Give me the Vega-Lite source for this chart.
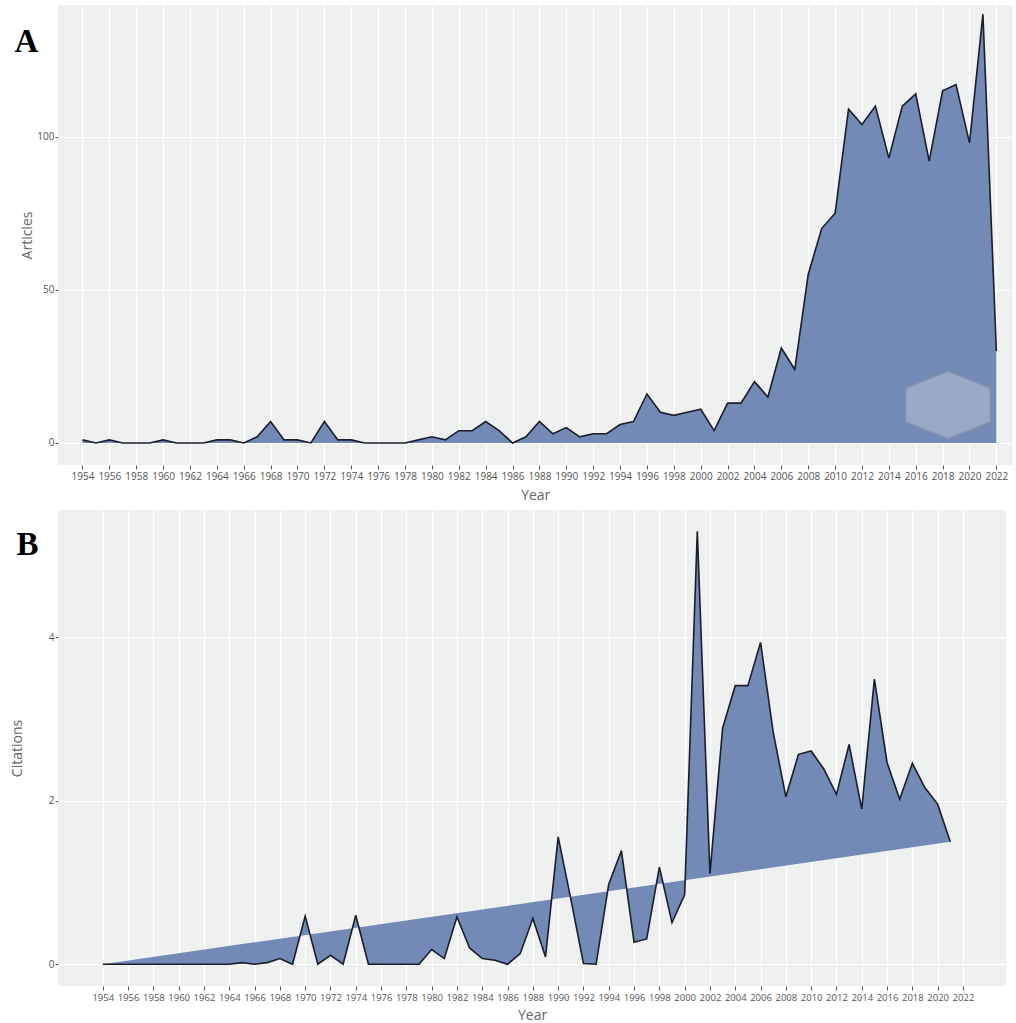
{
  "$schema": "https://vega.github.io/schema/vega-lite/v6.json",
  "background": "white",
  "padding": {"left": 10, "top": 5, "right": 0, "bottom": 0},
  "spacing": 8,
  "columns": 1,
  "config": {
    "view": {"fill": "#eff0f0", "stroke": null},
    "font": "Open Sans",
    "axis": {
      "domain": false,
      "grid": true,
      "gridColor": "#ffffff",
      "gridWidth": 1.2,
      "tickColor": "#555555",
      "tickSize": 4,
      "labelOverlap": false,
      "labelColor": "#555555",
      "labelFont": "Open Sans",
      "titleFont": "Open Sans",
      "titleColor": "#666666",
      "titleFontWeight": "normal",
      "titleFontSize": 14
    },
    "title": {"font": "Liberation Serif", "fontSize": 33, "fontWeight": "bold", "color": "#000000"}
  },
  "datasets": {
    "articles": [
      {"year": 1954, "n": 1}, {"year": 1955, "n": 0}, {"year": 1956, "n": 1}, {"year": 1957, "n": 0},
      {"year": 1958, "n": 0}, {"year": 1959, "n": 0}, {"year": 1960, "n": 1}, {"year": 1961, "n": 0},
      {"year": 1962, "n": 0}, {"year": 1963, "n": 0}, {"year": 1964, "n": 1}, {"year": 1965, "n": 1},
      {"year": 1966, "n": 0}, {"year": 1967, "n": 2}, {"year": 1968, "n": 7}, {"year": 1969, "n": 1},
      {"year": 1970, "n": 1}, {"year": 1971, "n": 0}, {"year": 1972, "n": 7}, {"year": 1973, "n": 1},
      {"year": 1974, "n": 1}, {"year": 1975, "n": 0}, {"year": 1976, "n": 0}, {"year": 1977, "n": 0},
      {"year": 1978, "n": 0}, {"year": 1979, "n": 1}, {"year": 1980, "n": 2}, {"year": 1981, "n": 1},
      {"year": 1982, "n": 4}, {"year": 1983, "n": 4}, {"year": 1984, "n": 7}, {"year": 1985, "n": 4},
      {"year": 1986, "n": 0}, {"year": 1987, "n": 2}, {"year": 1988, "n": 7}, {"year": 1989, "n": 3},
      {"year": 1990, "n": 5}, {"year": 1991, "n": 2}, {"year": 1992, "n": 3}, {"year": 1993, "n": 3},
      {"year": 1994, "n": 6}, {"year": 1995, "n": 7}, {"year": 1996, "n": 16}, {"year": 1997, "n": 10},
      {"year": 1998, "n": 9}, {"year": 1999, "n": 10}, {"year": 2000, "n": 11}, {"year": 2001, "n": 4},
      {"year": 2002, "n": 13}, {"year": 2003, "n": 13}, {"year": 2004, "n": 20}, {"year": 2005, "n": 15},
      {"year": 2006, "n": 31}, {"year": 2007, "n": 24}, {"year": 2008, "n": 55}, {"year": 2009, "n": 70},
      {"year": 2010, "n": 75}, {"year": 2011, "n": 109}, {"year": 2012, "n": 104}, {"year": 2013, "n": 110},
      {"year": 2014, "n": 93}, {"year": 2015, "n": 110}, {"year": 2016, "n": 114}, {"year": 2017, "n": 92},
      {"year": 2018, "n": 115}, {"year": 2019, "n": 117}, {"year": 2020, "n": 98}, {"year": 2021, "n": 140},
      {"year": 2022, "n": 30}
    ],
    "citations": [
      {"year": 1954, "c": 0}, {"year": 1955, "c": 0}, {"year": 1956, "c": 0}, {"year": 1957, "c": 0},
      {"year": 1958, "c": 0}, {"year": 1959, "c": 0}, {"year": 1960, "c": 0}, {"year": 1961, "c": 0},
      {"year": 1962, "c": 0}, {"year": 1963, "c": 0}, {"year": 1964, "c": 0}, {"year": 1965, "c": 0.02},
      {"year": 1966, "c": 0}, {"year": 1967, "c": 0.02}, {"year": 1968, "c": 0.07}, {"year": 1969, "c": 0},
      {"year": 1970, "c": 0.59}, {"year": 1971, "c": 0}, {"year": 1972, "c": 0.11}, {"year": 1973, "c": 0},
      {"year": 1974, "c": 0.6}, {"year": 1975, "c": 0}, {"year": 1976, "c": 0}, {"year": 1977, "c": 0},
      {"year": 1978, "c": 0}, {"year": 1979, "c": 0}, {"year": 1980, "c": 0.18}, {"year": 1981, "c": 0.07},
      {"year": 1982, "c": 0.58}, {"year": 1983, "c": 0.2}, {"year": 1984, "c": 0.07}, {"year": 1985, "c": 0.05},
      {"year": 1986, "c": 0}, {"year": 1987, "c": 0.13}, {"year": 1988, "c": 0.56}, {"year": 1989, "c": 0.09},
      {"year": 1990, "c": 1.56}, {"year": 1991, "c": 0.8}, {"year": 1992, "c": 0.01}, {"year": 1993, "c": 0},
      {"year": 1994, "c": 0.98}, {"year": 1995, "c": 1.39}, {"year": 1996, "c": 0.27}, {"year": 1997, "c": 0.31},
      {"year": 1998, "c": 1.19}, {"year": 1999, "c": 0.51}, {"year": 2000, "c": 0.85}, {"year": 2001, "c": 5.3},
      {"year": 2002, "c": 1.11}, {"year": 2003, "c": 2.89}, {"year": 2004, "c": 3.41}, {"year": 2005, "c": 3.41},
      {"year": 2006, "c": 3.94}, {"year": 2007, "c": 2.84}, {"year": 2008, "c": 2.05}, {"year": 2009, "c": 2.57},
      {"year": 2010, "c": 2.61}, {"year": 2011, "c": 2.39}, {"year": 2012, "c": 2.08}, {"year": 2013, "c": 2.69},
      {"year": 2014, "c": 1.9}, {"year": 2015, "c": 3.49}, {"year": 2016, "c": 2.47}, {"year": 2017, "c": 2.02},
      {"year": 2018, "c": 2.46}, {"year": 2019, "c": 2.16}, {"year": 2020, "c": 1.96}, {"year": 2021, "c": 1.5}
    ]
  },
  "concat": [
    {
      "width": 954.5,
      "height": 460,
      "title": {"text": "A", "anchor": "start", "frame": "group", "offset": -54, "dx": -43.5},
      "layer": [
        {
          "data": {"name": "articles"},
          "mark": {"type": "area", "color": "#7389b6", "opacity": 1, "line": {"color": "#1a1d2b", "strokeWidth": 1.6}},
          "encoding": {
            "x": {
              "field": "year", "type": "quantitative",
              "scale": {"domain": [1952.18, 2023.2], "nice": false, "zero": false},
              "axis": {
                "title": "Year", "format": "d", "labelFontSize": 10, "labelPadding": 2, "titlePadding": 7,
                "labelOverlap": false, "labelFlush": false,
                "values": [1954,1956,1958,1960,1962,1964,1966,1968,1970,1972,1974,1976,1978,1980,1982,1984,1986,1988,1990,1992,1994,1996,1998,2000,2002,2004,2006,2008,2010,2012,2014,2016,2018,2020,2022]
              }
            },
            "y": {
              "field": "n", "type": "quantitative",
              "scale": {"domain": [-7.2, 143], "nice": false, "zero": false},
              "axis": {"title": "Articles", "values": [0, 50, 100], "labelFontSize": 10, "tickSize": 3, "labelPadding": 1, "titlePadding": 2}
            }
          }
        },
        {
          "data": {"values": [{}]},
          "mark": {"type": "point", "shape": "M0,-0.8L1,-0.4L1,0.4L0,0.8L-1,0.4L-1,-0.4Z", "size": 7225, "filled": true, "fill": "#aab6d2", "fillOpacity": 0.7, "stroke": "#8390ac", "strokeWidth": 2, "strokeOpacity": 0.8},
          "encoding": {
            "x": {
              "datum": 2018.4, "type": "quantitative",
              "axis": {
                "title": "Year", "format": "d", "labelFontSize": 10, "labelPadding": 2, "titlePadding": 7,
                "labelOverlap": false, "labelFlush": false,
                "values": [1954,1956,1958,1960,1962,1964,1966,1968,1970,1972,1974,1976,1978,1980,1982,1984,1986,1988,1990,1992,1994,1996,1998,2000,2002,2004,2006,2008,2010,2012,2014,2016,2018,2020,2022]
              }
            },
            "y": {
              "datum": 12.4, "type": "quantitative",
              "axis": {"title": "Articles", "values": [0, 50, 100], "labelFontSize": 10, "tickSize": 3, "labelPadding": 1, "titlePadding": 2}
            }
          }
        }
      ]
    },
    {
      "width": 948.2,
      "height": 476,
      "title": {"text": "B", "anchor": "start", "frame": "group", "offset": -52, "dx": -41.5},
      "data": {"name": "citations"},
      "mark": {"type": "line", "fill": "#7389b6", "fillOpacity": 1, "stroke": "#1a1d2b", "strokeWidth": 1.6},
      "encoding": {
        "x": {
          "field": "year", "type": "quantitative",
          "scale": {"domain": [1950.46, 2025.42], "nice": false, "zero": false},
          "axis": {
            "title": "Year", "format": "d", "labelFontSize": 9.5, "labelPadding": 2, "titlePadding": 7,
            "labelOverlap": false, "labelFlush": false,
            "values": [1954,1956,1958,1960,1962,1964,1966,1968,1970,1972,1974,1976,1978,1980,1982,1984,1986,1988,1990,1992,1994,1996,1998,2000,2002,2004,2006,2008,2010,2012,2014,2016,2018,2020,2022]
          }
        },
        "y": {
          "field": "c", "type": "quantitative",
          "scale": {"domain": [-0.266, 5.56], "nice": false, "zero": false},
          "axis": {"title": "Citations", "values": [0, 2, 4], "labelFontSize": 10, "tickSize": 3, "labelPadding": 1, "titlePadding": 24}
        }
      }
    }
  ]
}
